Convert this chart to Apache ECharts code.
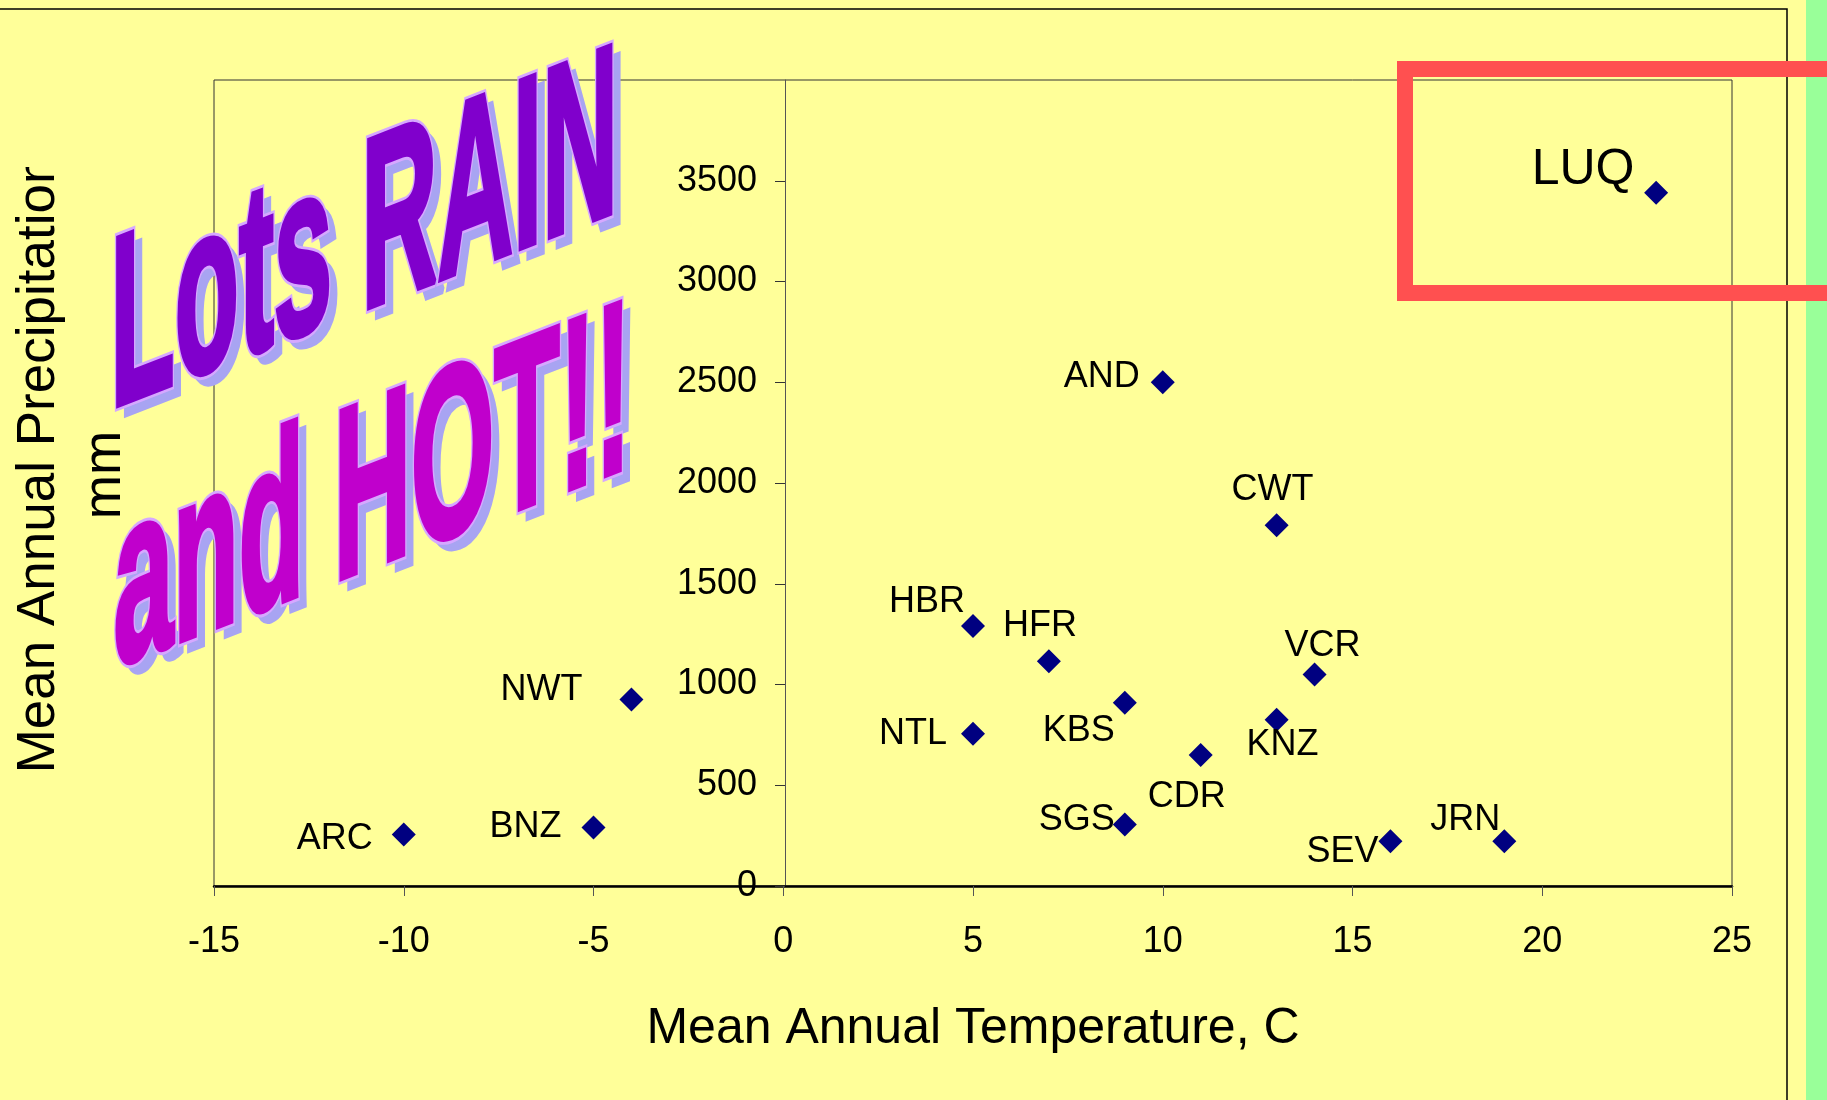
<!DOCTYPE html>
<html>
<head>
<meta charset="utf-8">
<style>
  html, body { margin: 0; padding: 0; background: #FFFF99; }
  #chart { width: 1827px; height: 1100px; }
</style>
<script src="https://cdn.jsdelivr.net/npm/echarts@6/dist/echarts.min.js"></script>
</head>
<body>
<div id="chart"></div>
<script>
// ---- data ----
const sites  = ['LUQ', 'AND', 'CWT', 'HBR', 'HFR', 'VCR', 'NWT', 'KBS', 'KNZ', 'NTL', 'CDR', 'SGS', 'BNZ', 'ARC', 'SEV', 'JRN'];
const temps  = [23, 10, 13, 5, 7, 14, -4, 9, 13, 5, 11, 9, -5, -10, 16, 19];
const precip = [3440, 2500, 1790, 1290, 1115, 1050, 925, 910, 825, 755, 650, 305, 290, 255, 222, 222];
const xTitle = 'Mean Annual Temperature, C';
const yTitleLines = ['Mean Annual Precipitation', 'mm'];
const bannerLines = ['Lots RAIN', 'and HOT!!'];

// ---- label placement (style only) ----
const labelPlace = {
  LUQ: [-73, -23], AND: [-61, -5], CWT: [-4, -35], HBR: [-46, -24], HFR: [-9, -35],
  VCR: [8, -28], NWT: [-90, -10], KBS: [-46, 28], KNZ: [6, 25], NTL: [-60, 0],
  CDR: [-14, 42], SGS: [-48, -4], BNZ: [-68, 0], ARC: [-69, 4], SEV: [-48, 11], JRN: [-39, -21]
};

const FONT = '"Liberation Sans", Arial, sans-serif';

const points = sites.map((s, i) => ({
  name: s,
  value: [temps[i], precip[i]],
  label: {
    show: true,
    formatter: s,
    position: 'inside',
    align: 'center',
    verticalAlign: 'middle',
    offset: labelPlace[s],
    fontSize: s === 'LUQ' ? 50 : 36,
    fontFamily: FONT,
    color: '#000'
  }
}));

const chart = echarts.init(document.getElementById('chart'), null, { renderer: 'canvas' });

// ---- WordArt banner ----
const skew = Math.atan(0.39);
const banner = [
  { t: bannerLines[0], x: 110.6, y: 341, sx: 1.05, fill: '#8000CC' },
  { t: bannerLines[1], x: 113.8, y: 600, sx: 1.07, fill: '#C000CC' }
];
const bannerEls = [];
const txtBase = { font: 'bold 100px ' + FONT, textAlign: 'left', align: 'left',
  textVerticalAlign: 'middle', verticalAlign: 'middle', lineJoin: 'round' };
banner.forEach(b => {
  const common = { scaleX: b.sx, scaleY: 2.42, skewY: skew };
  bannerEls.push(Object.assign({ type: 'text', x: b.x + 8, y: b.y + 9, z: 100,
    style: Object.assign({ text: b.t, fill: '#A8A4F2', stroke: '#A8A4F2', lineWidth: 3 }, txtBase) }, common));
  bannerEls.push(Object.assign({ type: 'text', x: b.x, y: b.y, z: 101,
    style: Object.assign({ text: b.t, fill: '#D6A8FF', stroke: '#D6A8FF', lineWidth: 5 }, txtBase) }, common));
  bannerEls.push(Object.assign({ type: 'text', x: b.x, y: b.y, z: 102,
    style: Object.assign({ text: b.t, fill: b.fill, stroke: b.fill, lineWidth: 2.6 }, txtBase) }, common));
});

const yTitleStyle = { font: '53px ' + FONT, fill: '#000', textAlign: 'center', align: 'center',
  textVerticalAlign: 'middle', verticalAlign: 'middle' };

const option = {
  backgroundColor: '#FFFF99',
  animation: false,
  grid: {
    left: 214, right: 95, top: 80, bottom: 214,
    show: true, borderColor: '#333', borderWidth: 1, backgroundColor: 'transparent'
  },
  xAxis: {
    type: 'value', min: -15, max: 25, interval: 5,
    name: xTitle, nameLocation: 'middle', nameGap: 118,
    nameTextStyle: { fontSize: 50, fontFamily: FONT, color: '#000' },
    axisLine: { onZero: false, lineStyle: { color: '#000', width: 2.5 } },
    axisTick: { show: true, length: 10, lineStyle: { color: '#555', width: 1 } },
    axisLabel: { fontSize: 36, fontFamily: FONT, color: '#000', margin: 38 },
    splitLine: { show: false }
  },
  yAxis: {
    type: 'value', min: 0, max: 4000, interval: 500,
    position: 'left', offset: -571,
    axisLine: { show: true, onZero: false, lineStyle: { color: '#555', width: 1 } },
    axisTick: { show: true, length: 10, lineStyle: { color: '#333', width: 1 } },
    axisLabel: { fontSize: 36, fontFamily: FONT, color: '#000', margin: 28, showMaxLabel: false,
      formatter: v => (v === 4000 ? '' : String(v)) },
    splitLine: { show: false }
  },
  series: [{
    type: 'scatter',
    symbol: 'diamond',
    symbolSize: 24,
    itemStyle: { color: '#000080', opacity: 1 },
    data: points,
    z: 3
  }],
  graphic: [
    { type: 'rect', z: 1, shape: { x: -5, y: 9, width: 1792, height: 1105 },
      style: { fill: 'none', stroke: '#000', lineWidth: 1.5 } },
    { type: 'rect', z: 1, shape: { x: 1806, y: 0, width: 21, height: 1100 },
      style: { fill: '#99FF99' } },
    { type: 'text', x: 39.5, y: 464, rotation: Math.PI / 2, z: 5,
      style: Object.assign({ text: yTitleLines[0] }, yTitleStyle) },
    { type: 'text', x: 105.5, y: 475, rotation: Math.PI / 2, z: 5,
      style: Object.assign({ text: yTitleLines[1] }, yTitleStyle) },
    { type: 'rect', z: 6, shape: { x: 12, y: 12, width: 60, height: 155 },
      style: { fill: '#FFFF99' } },
    ...bannerEls,
    { type: 'rect', z: 110, shape: { x: 1405, y: 69, width: 450, height: 224 },
      style: { fill: 'none', stroke: '#FF5050', lineWidth: 16 } }
  ]
};
chart.setOption(option);
</script>
</body>
</html>
